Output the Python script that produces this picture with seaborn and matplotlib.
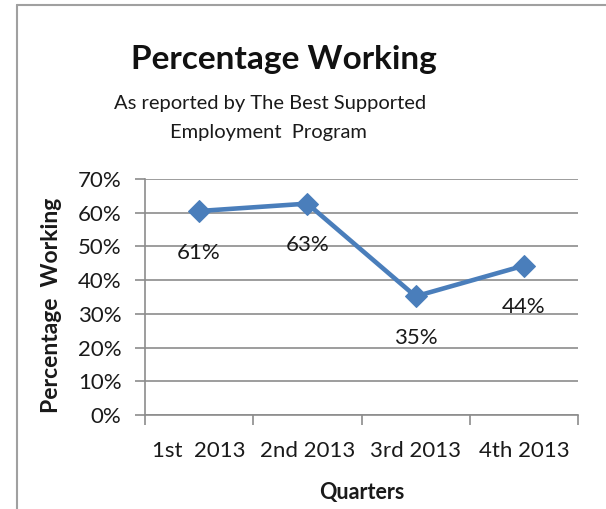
import matplotlib
matplotlib.use("Agg")
import matplotlib.pyplot as plt
import seaborn as sns
import pandas as pd
from matplotlib.lines import Line2D
from matplotlib.ticker import FixedLocator, PercentFormatter

quarters = ["1st  2013", "2nd 2013", "3rd 2013", "4th 2013"]
values = [0.605, 0.627, 0.352, 0.443]
labels = ["61%", "63%", "35%", "44%"]
yticks = [0, 0.1, 0.2, 0.3, 0.4, 0.5, 0.6, 0.7]

sns.set_theme(style="white")
plt.rcParams["font.family"] = ["Lato", "DejaVu Sans"]

df = pd.DataFrame({"Quarter": quarters, "Value": values, "pos": range(len(quarters))})

fig = plt.figure(figsize=(6.06, 5.09), dpi=100)
ax_w, ax_h = (578 - 145), (415 - 179)
ax = fig.add_axes([145/606, 1-415/509, ax_w/606, ax_h/509])

line_color = "#4A7EBB"
sns.lineplot(data=df, x="pos", y="Value", ax=ax, color=line_color, linewidth=3.3,
             marker="D", markersize=11, markeredgecolor=line_color, legend=False)

text_col = "#1a1a1a"
ax.set_xlim(-0.5, 3.5)
ax.set_ylim(0, 0.7)
ax.set_yticks(yticks)
ax.yaxis.set_major_formatter(PercentFormatter(1.0, decimals=0))
ax.yaxis.grid(True, color="#8c8c8c", linewidth=1.2)
ax.xaxis.grid(False)
ax.set_xticks(range(len(quarters)))
ax.set_xticklabels(quarters)
ax.xaxis.set_minor_locator(FixedLocator([-0.5, 0.5, 1.5, 2.5, 3.5]))
ax.tick_params(axis="x", which="major", length=0, pad=19, labelsize=16, colors=text_col)
ax.tick_params(axis="x", which="minor", length=7, width=1.2, color="#8c8c8c", bottom=True)
ax.tick_params(axis="y", which="major", length=7, width=1.2, color="#8c8c8c", left=True,
               labelsize=16, colors=text_col, pad=10)

for side in ["top", "right"]:
    ax.spines[side].set_visible(False)
for side in ["left", "bottom"]:
    ax.spines[side].set_color("#8c8c8c")
    ax.spines[side].set_linewidth(1.2)

for i, (v, t) in enumerate(zip(values, labels)):
    ax.annotate(t, (i, v), xytext=(0, -30), textcoords="offset points",
                ha="center", va="center", fontsize=16, color=text_col)

ax.set_xlabel("Quarters", fontsize=15.5, fontweight="bold", color=text_col)
ax.xaxis.label.set_va("center")
ax.xaxis.set_label_coords(0.5, -(493 - 415) / ax_h)
ax.set_ylabel("Percentage  Working", fontsize=16.5, fontweight="bold", color=text_col)
ax.yaxis.label.set_va("center")
ax.yaxis.label.set_ha("center")
ax.yaxis.set_label_coords(-(145 - 52) / ax_w, (415 - 305) / ax_h)

fig.text(284/606, 1-60/509, "Percentage Working", ha="center", va="center",
         fontsize=24, fontweight="bold", color="#111111")
fig.text(270/606, 1-103/509, "As reported by The Best Supported", ha="center", va="center",
         fontsize=14.5, color=text_col)
fig.text(268/606, 1-133/509, "Employment  Program", ha="center", va="center",
         fontsize=14.5, color=text_col)

fig.add_artist(Line2D([17/606, 17/606], [0, 1-5/509], transform=fig.transFigure,
                      color="#a0a0a0", linewidth=1.5))
fig.add_artist(Line2D([17/606, 1], [1-5/509, 1-5/509], transform=fig.transFigure,
                      color="#a0a0a0", linewidth=1.5))

fig.savefig("out.png", dpi=100)
